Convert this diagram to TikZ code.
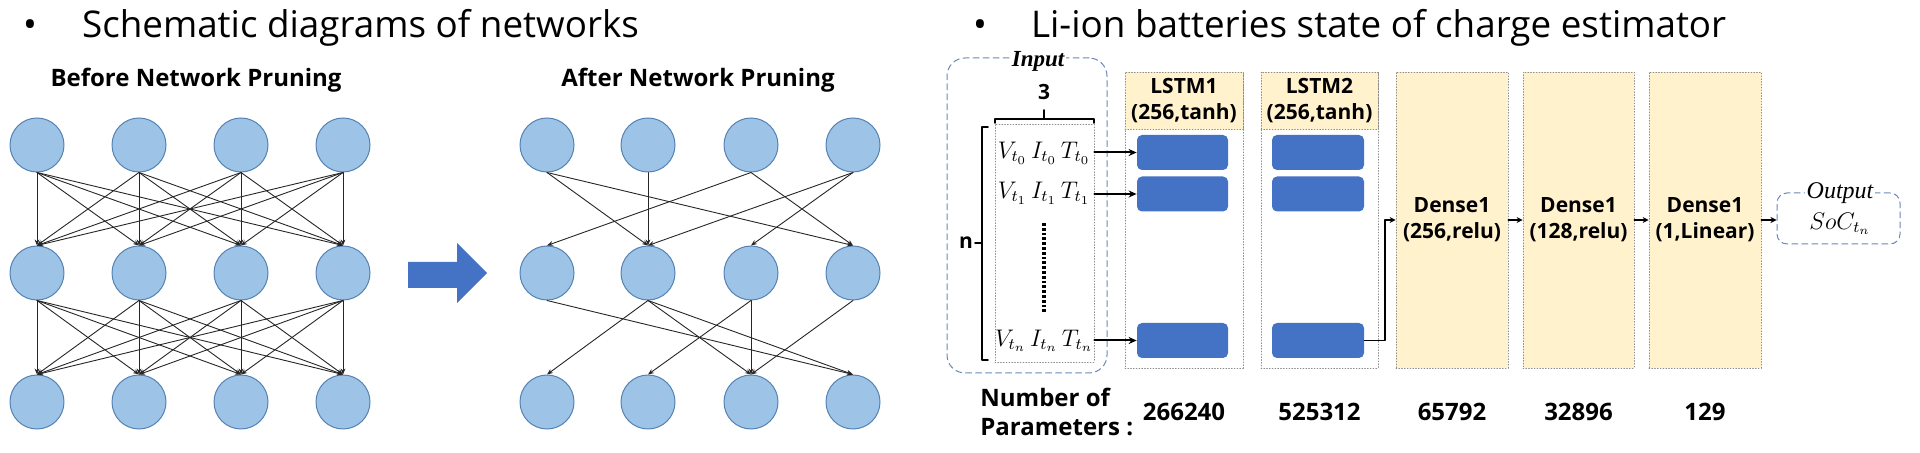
\documentclass[tikz,border=0pt]{standalone}
\usepackage{fontspec}
\setmainfont{Open Sans}
\newfontfamily\cambriaish{Liberation Serif}
\usetikzlibrary{arrows.meta}

\definecolor{neuronfill}{RGB}{157,195,230}
\definecolor{neuronline}{RGB}{84,130,180}
\definecolor{shiftblue}{RGB}{68,114,196}
\definecolor{layercream}{RGB}{255,242,204}
\definecolor{framegray}{RGB}{140,140,140}
\definecolor{iocolor}{RGB}{105,135,185}

\newcommand{\ttlfont}{\fontsize{18.4}{22}\selectfont}
\newcommand{\hdfont}{\bfseries\fontsize{12}{14}\selectfont}
\newcommand{\boxfont}{\bfseries\fontsize{10.5}{13}\selectfont}
\newcommand{\numfont}{\bfseries\fontsize{12}{14.5}\selectfont}
\newcommand{\rowfont}{\fontsize{12}{14}\selectfont}

\begin{document}
\begin{tikzpicture}[x=0.5pt,y=-0.5pt,line cap=round,line join=round,
  neuron/.style={circle,draw=neuronline,fill=neuronfill,line width=0.5pt,minimum size=27pt,inner sep=0pt},
  edge/.style={-{Stealth[length=3pt,width=2.4pt]},line width=0.45pt,black!85},
  feed/.style={-{Stealth[length=4pt,width=3.5pt]},line width=1pt},
  hop/.style={-{Stealth[length=3pt,width=3pt]},line width=0.9pt},
  layerframe/.style={draw=framegray,densely dotted,line width=0.4pt,inner sep=0pt},
  layerhead/.style={layerframe,fill=layercream,align=center,font=\boxfont},
  unit/.style={fill=shiftblue,rounded corners=2.5pt,inner sep=0pt,minimum height=17.5pt},
  iobox/.style={draw=iocolor,densely dashed,line width=0.5pt,rounded corners=9pt,inner sep=0pt},
  tag/.style={fill=white,inner sep=1pt,font=\cambriaish\itshape\fontsize{12}{14}\selectfont}]

  \useasboundingbox (0,0) rectangle (1920,453);

  % titles
  \node[anchor=base,font=\ttlfont] (dot1) at (30,38) {•};
  \node[anchor=base west,font=\ttlfont] (ttl1) at (75,38) {Schematic diagrams of networks};
  \node[anchor=base,font=\ttlfont] (dot2) at (980,38) {•};
  \node[anchor=base west,font=\ttlfont] (ttl2) at (1024,38) {Li-ion batteries state of charge estimator};

  % networks before / after pruning
  \node[font=\hdfont] (pre) at (196,80) {Before Network Pruning};
  \node[font=\hdfont] (post) at (698,80) {After Network Pruning};
  \foreach \i/\x/\xx in {1/37/547,2/139/648,3/241/751,4/343/853}
    \foreach \l/\y in {1/145,2/273,3/402} {
      \node[neuron] (pre\l\i) at (\x,\y) {};
      \node[neuron] (post\l\i) at (\xx,\y) {};
    }
  \foreach \i in {1,...,4}
    \foreach \j in {1,...,4} {
      \draw[edge] (pre1\i.south) -- (pre2\j.north);
      \draw[edge] (pre2\i.south) -- (pre3\j.north);
    }
  \foreach \a/\b in {11/22,11/24,12/22,13/21,13/24,14/22,14/23,
                     21/34,22/31,22/33,22/34,23/32,23/33,24/33}
    \draw[edge] (post\a.south) -- (post\b.north);
  \fill[shiftblue] (408,262) -- (457,262) -- (457,243) -- (487,273) -- (457,303) -- (457,288) -- (408,288) -- cycle;

  % input sequence
  \node[iobox,minimum width=80pt,minimum height=157.5pt] (inbox) at (1027,215.5) {};
  \node[tag,font=\cambriaish\bfseries\itshape\fontsize{11.5}{14}\selectfont] (intag) at (1038,61) {Input};
  \node[font=\boxfont] (dim) at (1044,92) {3};
  \draw[line width=0.8pt] (995,123) -- (995,119) -- (1094,119) -- (1094,123) (1044,119) -- (1044,110);
  \node[layerframe,minimum width=49.5pt,minimum height=119pt] (seq) at (1044.5,243) {};
  \draw[line width=0.8pt] (988,127) -- (982,127) -- (982,360) -- (988,360) (982,243) -- (975,243);
  \node[font=\boxfont] (nlen) at (966,243) {n};
  \node[font=\rowfont] (row0) at (1044,153) {$V_{t_0}\,I_{t_0}\,T_{t_0}$};
  \node[font=\rowfont] (row1) at (1044,193) {$V_{t_1}\,I_{t_1}\,T_{t_1}$};
  \node[font=\rowfont] (rown) at (1044,341) {$V_{t_n}\,I_{t_n}\,T_{t_n}$};
  \draw[line width=2pt,dash pattern=on 1.4pt off 1pt,line cap=butt] (1044,223) -- (1044,312);

  % LSTM layers
  \node[layerframe,fill=white,minimum width=59pt,minimum height=148pt] (lstm1) at (1184,220) {};
  \node[layerhead,minimum width=59pt,minimum height=28.5pt] (lstm1h) at (1184,100.5) {LSTM1\\(256,tanh)};
  \node[unit,minimum width=45.5pt] (l1u0) at (1182.5,152.5) {};
  \node[unit,minimum width=45.5pt] (l1u1) at (1182.5,194) {};
  \node[unit,minimum width=45.5pt] (l1un) at (1182.5,340.5) {};
  \node[layerframe,fill=white,minimum width=58.5pt,minimum height=148pt] (lstm2) at (1319.5,220) {};
  \node[layerhead,minimum width=58.5pt,minimum height=28.5pt] (lstm2h) at (1319.5,100.5) {LSTM2\\(256,tanh)};
  \node[unit,minimum width=46pt] (l2u0) at (1318,152.5) {};
  \node[unit,minimum width=46pt] (l2u1) at (1318,194) {};
  \node[unit,minimum width=46pt] (l2un) at (1318,340.5) {};
  \draw[feed] (seq.east |- l1u0) -- (l1u0.west);
  \draw[feed] (seq.east |- l1u1) -- (l1u1.west);
  \draw[feed] (seq.east |- l1un) -- (l1un.west);

  % dense layers and output
  \node[layerhead,minimum width=56pt,minimum height=148pt] (dns1) at (1452,220) {Dense1\\(256,relu)};
  \node[layerhead,minimum width=55.5pt,minimum height=148pt] (dns2) at (1578.5,220) {Dense1\\(128,relu)};
  \node[layerhead,minimum width=56pt,minimum height=148pt] (dns3) at (1705,220) {Dense1\\(1,Linear)};
  \node[iobox,rounded corners=5pt,minimum width=61.5pt,minimum height=25.5pt] (outbox) at (1838.5,218.5) {};
  \node[font=\rowfont] (soc) at (1840,224) {$SoC_{t_n}$};
  \node[tag] (outtag) at (1840,193) {Output};
  \coordinate (bend) at (1385,220);
  \draw[hop] (l2un.east) -| (bend) -- (dns1.west);
  \draw[hop] (dns1.east) -- (dns2.west);
  \draw[hop] (dns2.east) -- (dns3.west);
  \draw[hop] (dns3.east) -- (dns3.east -| outbox.west);

  % parameter counts
  \node[font=\numfont,align=left,anchor=west,inner sep=0pt] (npar) at (980,412) {Number of\\Parameters :};
  \node[font=\numfont] (p1) at (lstm1 |- npar) {266240};
  \node[font=\numfont] (p2) at (lstm2 |- npar) {525312};
  \node[font=\numfont] (p3) at (dns1 |- npar) {65792};
  \node[font=\numfont] (p4) at (dns2 |- npar) {32896};
  \node[font=\numfont] (p5) at (dns3 |- npar) {129};
\end{tikzpicture}
\end{document}
